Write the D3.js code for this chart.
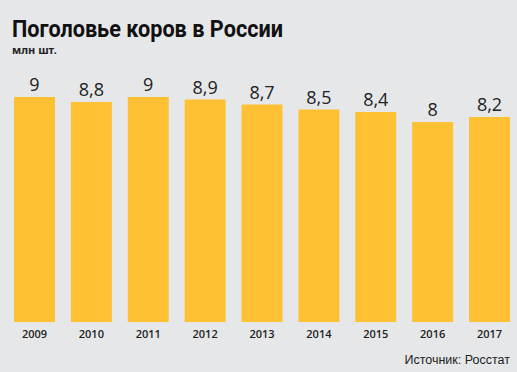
<!DOCTYPE html>
<html>
<head>
<meta charset="utf-8">
<script src="https://cdnjs.cloudflare.com/ajax/libs/d3/7.8.5/d3.min.js"></script>
<style>
  body { margin: 0; background: #e6e7e9; }
  svg { display: block; }
  .title { font-family: "Liberation Sans Narrow", "Roboto", sans-serif; font-weight: bold; font-size: 24px; fill: #111; }
  .unit { font-family: "Noto Sans", sans-serif; font-size: 11px; font-weight: bold; fill: #222; }
  .val { font-family: "Open Sans", sans-serif; font-size: 18px; fill: #222; }
  .year { font-family: "Open Sans", sans-serif; font-size: 11px; font-weight: 600; fill: #222; }
  .src { font-family: "Liberation Sans Narrow", sans-serif; font-size: 12.5px; fill: #222; }
</style>
</head>
<body>
<svg class="chart"></svg>
<script>
// chart size
var width = 517;
var height = 372;
var margin = {top: 97, right: 7, bottom: 50, left: 14};

var years = ["2009", "2010", "2011", "2012", "2013", "2014", "2015", "2016", "2017"];
var cows = [9, 8.8, 9, 8.9, 8.7, 8.5, 8.4, 8, 8.2];
var cowLabels = ["9", "8,8", "9", "8,9", "8,7", "8,5", "8,4", "8", "8,2"];

var svg = d3.select(".chart")
    .attr("width", width)
    .attr("height", height);

// title and units
svg.append("text")
    .attr("class", "title")
    .attr("x", 12)
    .attr("y", 37)
    .attr("textLength", 271)
    .attr("lengthAdjust", "spacingAndGlyphs")
    .text("Поголовье коров в России");

svg.append("text")
    .attr("class", "unit")
    .attr("x", 12)
    .attr("y", 54)
    .text("млн шт.");

var x = d3.scaleBand()
    .domain(years)
    .range([margin.left, width - margin.right])
    .paddingInner(0.28)
    .paddingOuter(0);

var y = d3.scaleLinear()
    .domain([0, 9])
    .range([322, 322 - 225]);

// bars
svg.selectAll("rect.bar")
    .data(years)
    .enter().append("rect")
    .attr("class", "bar")
    .attr("x", function(d) { return x(d); })
    .attr("width", x.bandwidth())
    .attr("y", function(d, i) { return y(cows[i]); })
    .attr("height", function(d, i) { return y(0) - y(cows[i]); })
    .style("fill", "#fec134");

// values above bars
svg.selectAll("text.val")
    .data(years)
    .enter().append("text")
    .attr("class", "val")
    .attr("x", function(d) { return x(d) + x.bandwidth() / 2; })
    .attr("y", function(d, i) { return y(cows[i]) - 6; })
    .style("text-anchor", "middle")
    .text(function(d, i) { return cowLabels[i]; });

// year axis, no line or ticks
var xAxis = d3.axisBottom(x).tickSize(0).tickPadding(6);
var gx = svg.append("g")
    .attr("transform", "translate(0,322)")
    .call(xAxis);
gx.select(".domain").remove();
gx.selectAll("text")
    .attr("class", "year")
    .attr("dy", "0.9em")
    .attr("font-family", null)
    .attr("font-size", null);

svg.append("text")
    .attr("class", "src")
    .attr("x", 510)
    .attr("y", 364)
    .style("text-anchor", "end")
    .text("Источник: Росстат");
</script>
</body>
</html>
